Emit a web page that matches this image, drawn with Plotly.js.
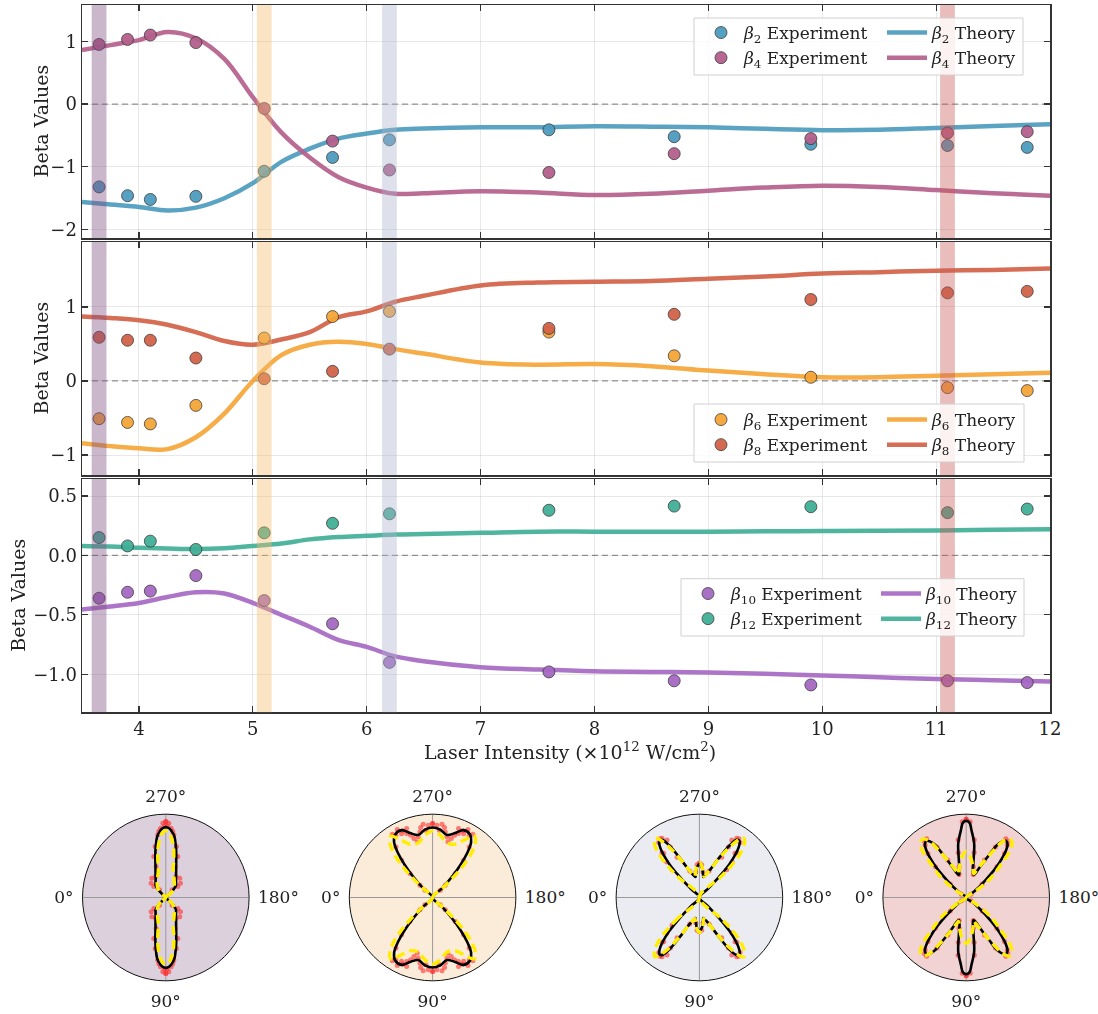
<!DOCTYPE html>
<html><head><meta charset="utf-8">
<script src="https://cdn.plot.ly/plotly-3.0.1.min.js"></script>
<style>html,body{margin:0;padding:0;background:#fff}</style>
</head><body><div id="chart" style="width:1098px;height:1014px"></div>
<script>
// ---------- data ----------
const expX = [3.65, 3.9, 4.1, 4.5, 5.1, 5.7, 6.2, 7.6, 8.7, 9.9, 11.1, 11.8];
const beta2Exp  = [-1.32, -1.46, -1.52, -1.47, -1.07, -0.85, -0.57, -0.41, -0.52, -0.64, -0.66, -0.69];
const beta4Exp  = [0.95, 1.03, 1.10, 0.98, -0.07, -0.59, -1.05, -1.09, -0.79, -0.55, -0.46, -0.44];
const beta6Exp  = [-0.51, -0.56, -0.58, -0.33, 0.58, 0.87, 0.94, 0.66, 0.34, 0.05, -0.09, -0.13];
const beta8Exp  = [0.59, 0.55, 0.55, 0.31, 0.03, 0.13, 0.43, 0.71, 0.90, 1.10, 1.19, 1.21];
const beta10Exp = [-0.36, -0.31, -0.30, -0.17, -0.38, -0.575, -0.90, -0.98, -1.055, -1.09, -1.055, -1.07];
const beta12Exp = [0.15, 0.08, 0.12, 0.05, 0.19, 0.27, 0.35, 0.38, 0.415, 0.41, 0.36, 0.39];

const theoryX = [3.5, 3.75, 4.0, 4.25, 4.5, 4.75, 5.0, 5.25, 5.5, 5.75, 6.0, 6.25, 6.5, 7.0, 7.5, 8.0, 8.5, 9.0, 9.5, 10.0, 10.5, 11.0, 11.5, 12.0];
const beta2Th  = [-1.56, -1.60, -1.64, -1.695, -1.65, -1.50, -1.26, -0.92, -0.71, -0.55, -0.47, -0.41, -0.39, -0.37, -0.37, -0.355, -0.36, -0.37, -0.395, -0.415, -0.41, -0.38, -0.35, -0.32];
const beta4Th  = [0.86, 0.94, 1.02, 1.15, 1.05, 0.72, 0.11, -0.45, -0.85, -1.16, -1.33, -1.43, -1.42, -1.39, -1.41, -1.45, -1.43, -1.38, -1.33, -1.30, -1.32, -1.37, -1.42, -1.46];
const beta6Th  = [-0.84, -0.88, -0.91, -0.92, -0.76, -0.44, 0.0, 0.35, 0.49, 0.53, 0.50, 0.43, 0.37, 0.25, 0.22, 0.23, 0.20, 0.14, 0.09, 0.05, 0.05, 0.07, 0.09, 0.11];
const beta8Th  = [0.87, 0.85, 0.82, 0.76, 0.66, 0.54, 0.49, 0.56, 0.66, 0.86, 0.94, 1.07, 1.15, 1.29, 1.33, 1.34, 1.35, 1.38, 1.41, 1.45, 1.47, 1.49, 1.50, 1.52];
const beta10Th = [-0.455, -0.43, -0.40, -0.35, -0.31, -0.32, -0.40, -0.50, -0.60, -0.71, -0.77, -0.85, -0.89, -0.94, -0.96, -0.975, -0.98, -0.985, -0.995, -1.01, -1.025, -1.04, -1.05, -1.06];
const beta12Th = [0.08, 0.075, 0.065, 0.058, 0.053, 0.06, 0.08, 0.10, 0.135, 0.155, 0.165, 0.175, 0.18, 0.19, 0.20, 0.20, 0.20, 0.20, 0.203, 0.205, 0.207, 0.21, 0.215, 0.22];

const bandCenters = [3.65, 5.1, 6.2, 11.1];
const xTicks = [4, 5, 6, 7, 8, 9, 10, 11, 12];
const yTicksTop = [-2, -1, 0, 1];
const yTicksMid = [-1, 0, 1];
const yTicksBot = [-1.0, -0.5, 0.0, 0.5];
const angleTicks = [0, 90, 180, 270];
const angleLabels = ['0°', '90°', '180°', '270°'];
const yTitle = 'Beta Values';
const xTitle = 'Laser Intensity (×10<sup>12</sup> W/cm<sup>2</sup>)';

// polar profiles: phi = angle from the 90°/270° axis (deg), r = normalised radius
const p1BlackPhi = [0, 3, 5, 8, 11, 14, 18, 22, 28, 34, 40, 44, 46, 48];
const p1BlackR   = [0.845, 0.83, 0.80, 0.74, 0.63, 0.52, 0.40, 0.33, 0.26, 0.22, 0.19, 0.13, 0.06, 0];
const p1YelPhi   = [0, 3, 6, 9, 12, 15, 20, 26, 34, 42, 48, 52];
const p1YelR     = [0.80, 0.78, 0.70, 0.60, 0.46, 0.34, 0.28, 0.23, 0.185, 0.14, 0.08, 0];
const p1RedPhi   = [0, 2.3, 4.4, 7.3, 11.8, 16.3, 17.3, 26, 35.9, 45.7, 47.5, 39.6, 1, 6];
const p1RedR     = [0.912, 0.893, 0.834, 0.758, 0.625, 0.513, 0.39, 0.28, 0.286, 0.246, 0.195, 0.119, 0.86, 0.80];

const p2BlackPhi = [0, 6.4, 12.9, 19.3, 24.7, 30.7, 34.8, 38, 40.6, 43.1, 46, 48];
const p2BlackR   = [0.84, 0.82, 0.77, 0.82, 0.89, 0.88, 0.81, 0.67, 0.51, 0.34, 0.156, 0];
const p2YelPhi   = [0, 7, 14.7, 23, 29.4, 34.4, 38.3, 41.3, 43.8, 45.5, 46.3, 47];
const p2YelR     = [0.80, 0.754, 0.678, 0.695, 0.80, 0.892, 0.826, 0.703, 0.537, 0.354, 0.16, 0];
const p2RedPhi   = [0, 3.4, 7.3, 9.7, 5.7, 13.3, 15.4, 17.6, 19.4, 20.6, 24.2, 27.5, 30.5, 32.5, 35.9, 39.7, 43.4, 45.8, 46.3, 11, 22, 26];
const p2RedR     = [0.888, 0.87, 0.887, 0.852, 0.812, 0.748, 0.693, 0.743, 0.793, 0.885, 0.877, 0.919, 0.868, 0.90, 0.75, 0.582, 0.396, 0.212, 0.127, 0.80, 0.83, 0.85];

const p3BlackPhi = [0, 5, 9, 11, 16, 21, 26.8, 30.2, 32.9, 35.5, 38.3, 41.8, 43.6, 44.6, 45.3];
const p3BlackR   = [0.40, 0.36, 0.28, 0.25, 0.29, 0.356, 0.55, 0.73, 0.824, 0.83, 0.755, 0.55, 0.35, 0.15, 0];
const p3YelPhi   = [0, 5, 9, 12, 17, 22, 28, 32, 35, 37, 40, 43, 45, 46, 47];
const p3YelR     = [0.42, 0.37, 0.30, 0.26, 0.30, 0.38, 0.58, 0.75, 0.86, 0.89, 0.84, 0.72, 0.55, 0.35, 0];
const p3RedPhi   = [32.2, 36.5, 29.3, 29.8, 38.8, 29, 44.7, 4.1, 8, 20, 40, 34, 42.5, 0];
const p3RedR     = [0.841, 0.821, 0.793, 0.70, 0.683, 0.553, 0.467, 0.393, 0.31, 0.34, 0.70, 0.85, 0.58, 0.41];

const p4BlackPhi = [0, 2.5, 4.5, 8.4, 11.1, 14.6, 18, 21, 23.6, 28.2, 31.2, 34.8, 37, 39, 43.9, 48.1, 53.5, 57];
const p4BlackR   = [0.92, 0.90, 0.81, 0.655, 0.457, 0.318, 0.285, 0.31, 0.38, 0.576, 0.757, 0.828, 0.82, 0.782, 0.566, 0.312, 0.114, 0];
const p4YelPhi   = [0, 6.1, 12.3, 17.7, 20, 25, 29.7, 33, 36, 38.5, 40.4, 43.5, 46.7, 50, 53, 56, 58];
const p4YelR     = [0.55, 0.49, 0.377, 0.30, 0.33, 0.45, 0.63, 0.80, 0.87, 0.87, 0.85, 0.755, 0.566, 0.44, 0.314, 0.12, 0];
const p4RedPhi   = [0, 3, 34, 36.5, 38, 30, 26, 45, 50, 8, 10, 13, 17, 41, 55];
const p4RedR     = [0.94, 0.91, 0.85, 0.84, 0.80, 0.70, 0.50, 0.52, 0.25, 0.70, 0.55, 0.38, 0.29, 0.70, 0.07];

// ---------- styling ----------
const W = 1098, H = 1014;
const F = 'DejaVu Serif';
const PX = v => v / W, PY = v => 1 - v / H;
const col = {b2:'#4d9bbe', b4:'#b45f8c', b6:'#f5a537', b8:'#d26248', b10:'#a569c3', b12:'#41af96'};
const bandFill = ['rgba(125,75,125,0.4)', 'rgba(243,187,107,0.4)', 'rgba(172,180,205,0.4)', 'rgba(200,90,85,0.4)'];
const polarBg = ['#dcd0dc', '#fbebd9', '#ebecf2', '#f0d3d2'];
const polarCx = [165.8, 432.6, 699.4, 966.2];
const polarCy = 897.5, polarR = 83.3;

const panels = [
  {xa:'x', ya:'y', top:5, bot:238, range:[-2.134, 1.579], ticks:yTicksTop, fmt:'d', legE:'legend', legT:'legend2',
   series:[{name:'2', exp:beta2Exp, th:beta2Th, c:col.b2}, {name:'4', exp:beta4Exp, th:beta4Th, c:col.b4}],
   legTop:15, legExpX:698, legThX:882, box:[694,1023,18,75], titleX:40},
  {xa:'x2', ya:'y2', top:242, bot:475, range:[-1.27, 1.877], ticks:yTicksMid, fmt:'d', legE:'legend3', legT:'legend4',
   series:[{name:'6', exp:beta6Exp, th:beta6Th, c:col.b6}, {name:'8', exp:beta8Exp, th:beta8Th, c:col.b8}],
   legTop:402, legExpX:698, legThX:882, box:[694,1024,404,462], titleX:40},
  {xa:'x3', ya:'y3', top:479, bot:712.3, range:[-1.32, 0.643], ticks:yTicksBot, fmt:'.1f', legE:'legend5', legT:'legend6',
   series:[{name:'10', exp:beta10Exp, th:beta10Th, c:col.b10}, {name:'12', exp:beta12Exp, th:beta12Th, c:col.b12}],
   legTop:576, legExpX:685, legThX:876, box:[681,1024,578.7,636], titleX:18}
];

const traces = [];
const layout = {
  width: W, height: H, margin:{l:0, r:0, t:0, b:0},
  paper_bgcolor:'#ffffff', plot_bgcolor:'#ffffff',
  font:{family:F, size:18, color:'#222'},
  showlegend:true, shapes:[], annotations:[]
};

const axBase = {showline:true, linecolor:'#333', linewidth:1.5, mirror:'ticks', ticks:'inside', ticklen:6,
  tickwidth:1.2, tickcolor:'#333', showgrid:true, gridcolor:'rgba(0,0,0,0.09)', gridwidth:1, zeroline:false,
  tickfont:{family:F, size:18, color:'#222'}, automargin:false};

panels.forEach((p, i) => {
  const xk = p.xa === 'x' ? 'xaxis' : 'xaxis' + p.xa.slice(1);
  const yk = p.ya === 'y' ? 'yaxis' : 'yaxis' + p.ya.slice(1);
  layout[xk] = Object.assign({}, axBase, {domain:[PX(82), PX(1050)], range:[3.5, 12], anchor:p.ya,
    tickmode:'array', tickvals:xTicks, showticklabels: i === 2});
  layout[yk] = Object.assign({}, axBase, {domain:[PY(p.bot), PY(p.top)], range:p.range, anchor:p.xa,
    tickmode:'array', tickvals:p.ticks, tickformat:p.fmt});
  layout.annotations.push({text:yTitle, textangle:-90, xref:'paper', yref:'paper', x:PX(p.titleX), y:PY((p.top + p.bot) / 2),
    xanchor:'center', yanchor:'middle', showarrow:false, font:{family:F, size:19, color:'#222'}});
  // legends
  layout[p.legE] = {x:PX(p.legExpX), y:PY(p.legTop), xanchor:'left', yanchor:'top', bgcolor:'rgba(0,0,0,0)',
    borderwidth:0, itemwidth:36, font:{family:F, size:17, color:'#222'}};
  layout[p.legT] = {x:PX(p.legThX), y:PY(p.legTop), xanchor:'left', yanchor:'top', bgcolor:'rgba(0,0,0,0)',
    borderwidth:0, itemwidth:40, font:{family:F, size:17, color:'#222'}};
  // zero line
  layout.shapes.push({type:'line', xref:p.xa + ' domain', yref:p.ya, x0:0, x1:1, y0:0, y1:0,
    line:{color:'#9a9a9a', width:1.3, dash:'6px,4px'}, layer:'below'});
  // theory lines
  p.series.forEach(s => {
    traces.push({type:'scatter', mode:'lines', x:theoryX, y:s.th, xaxis:p.xa, yaxis:p.ya,
      line:{color:s.c, width:4.5, shape:'spline', smoothing:1}, opacity:0.92,
      name:'<i>β</i><sub>' + s.name + '</sub> Theory', legend:p.legT});
  });
  p.series.forEach(s => {
    traces.push({type:'scatter', mode:'markers', x:expX, y:s.exp, xaxis:p.xa, yaxis:p.ya,
      marker:{size:12, color:s.c, line:{color:'#333', width:0.8}}, opacity:0.95,
      name:'<i>β</i><sub>' + s.name + '</sub> Experiment', legend:p.legE});
  });
});
layout.annotations.push({text:xTitle, xref:'paper', yref:'paper', x:PX(570), y:PY(751),
  xanchor:'center', yanchor:'middle', showarrow:false, font:{family:F, size:19, color:'#222'}});

// bands (drawn over data)
panels.forEach(p => {
  bandCenters.forEach((c, j) => {
    layout.shapes.push({type:'rect', xref:p.xa, yref:p.ya + ' domain', x0:c - 0.065, x1:c + 0.065, y0:0, y1:1,
      fillcolor:bandFill[j], line:{width:0}, layer:'above'});
  });
});
// legend frames
panels.forEach(p => {
  layout.shapes.push({type:'rect', xref:'paper', yref:'paper', x0:PX(p.box[0]), x1:PX(p.box[1]),
    y0:PY(p.box[3]), y1:PY(p.box[2]), fillcolor:'rgba(255,255,255,0.8)', line:{color:'#d0d0d0', width:1}, layer:'above'});
});

// ---------- polar plots ----------
function fullCurve(phi, r) {
  const th = [], rr = [], n = phi.length - 1;
  for (let k = n; k >= 0; k--) { th.push(90 - phi[k]); rr.push(r[k]); }
  for (let k = 1; k <= n; k++) { th.push(90 + phi[k]); rr.push(r[k]); }
  for (let k = n - 1; k >= 0; k--) { th.push(270 - phi[k]); rr.push(r[k]); }
  for (let k = 1; k < n; k++) { th.push(270 + phi[k]); rr.push(r[k]); }
  th.push(th[0]); rr.push(rr[0]);
  return {th, rr};
}
function mirrorPts(phi, r) {
  const th = [], rr = [];
  phi.forEach((f, k) => { [90 - f, 90 + f, 270 - f, 270 + f].forEach(t => { th.push(t); rr.push(r[k]); }); });
  return {th, rr};
}
const polarSets = [
  [p1BlackPhi, p1BlackR, p1YelPhi, p1YelR, p1RedPhi, p1RedR],
  [p2BlackPhi, p2BlackR, p2YelPhi, p2YelR, p2RedPhi, p2RedR],
  [p3BlackPhi, p3BlackR, p3YelPhi, p3YelR, p3RedPhi, p3RedR],
  [p4BlackPhi, p4BlackR, p4YelPhi, p4YelR, p4RedPhi, p4RedR]
];
polarSets.forEach((s, i) => {
  const sp = i === 0 ? 'polar' : 'polar' + (i + 1);
  const red = mirrorPts(s[4], s[5]);
  const blk = fullCurve(s[0], s[1]);
  const yel = fullCurve(s[2], s[3]);
  traces.push({type:'scatterpolar', subplot:sp, mode:'markers', theta:red.th, r:red.rr, showlegend:false,
    marker:{size:5, color:'rgba(255,45,45,0.6)'}, hoverinfo:'skip'});
  traces.push({type:'scatterpolar', subplot:sp, mode:'lines', theta:blk.th, r:blk.rr, showlegend:false,
    line:{color:'#000', width:2.6, shape:'spline', smoothing:1}, hoverinfo:'skip'});
  traces.push({type:'scatterpolar', subplot:sp, mode:'lines', theta:yel.th, r:yel.rr, showlegend:false,
    line:{color:'#ffee00', width:3.4, dash:'9px,5px', shape:'spline', smoothing:1}, hoverinfo:'skip'});
  const cx = polarCx[i];
  layout[sp] = {
    domain:{x:[PX(cx - polarR), PX(cx + polarR)], y:[PY(polarCy + polarR), PY(polarCy - polarR)]},
    bgcolor:polarBg[i],
    angularaxis:{rotation:180, direction:'counterclockwise', tickmode:'array', tickvals:angleTicks, ticktext:angleLabels,
      showgrid:true, gridcolor:'#9a9a9a', gridwidth:1, showline:true, linecolor:'#111', linewidth:1,
      ticks:'outside', ticklen:5, tickcolor:'rgba(0,0,0,0)', tickfont:{family:F, size:17, color:'#222'}},
    radialaxis:{range:[0, 1], visible:false}
  };
});

Plotly.newPlot('chart', traces, layout, {staticPlot:true, displayModeBar:false});
</script></body></html>
